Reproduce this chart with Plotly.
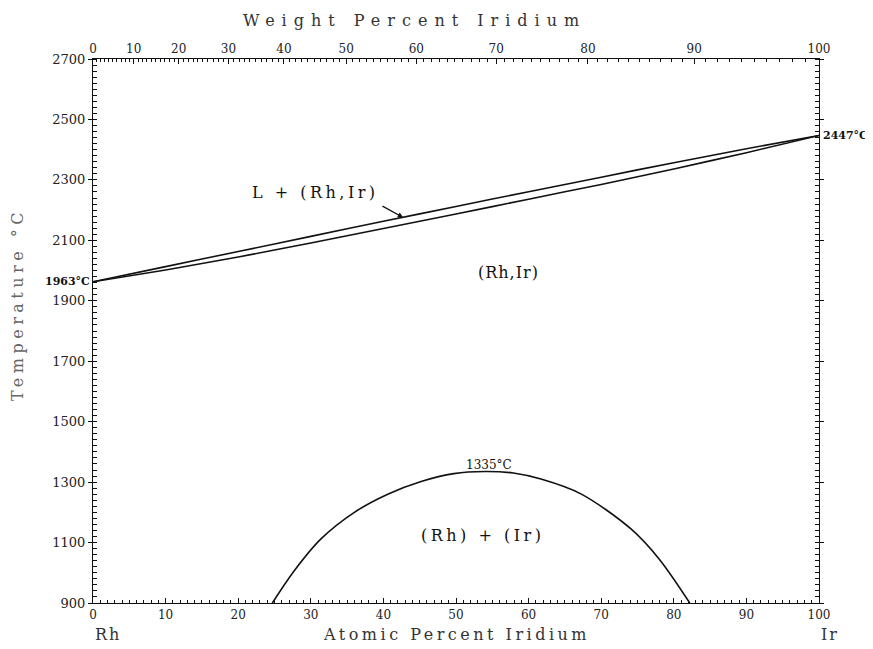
import plotly.graph_objects as go

# Liquidus / solidus (atomic % Ir, °C)
liq_x = [0, 10, 20, 30, 40, 50, 60, 70, 80, 90, 100]
liq_t = [1963, 2013, 2063, 2113, 2163, 2212, 2261, 2309, 2357, 2403, 2447]
sol_x = [0, 10, 20, 30, 40, 50, 60, 70, 80, 90, 100]
sol_t = [1963, 2002, 2045, 2091, 2139, 2187, 2236, 2285, 2336, 2390, 2447]

# Miscibility gap
gap_x = [24.7, 27.7, 31.4, 36.0, 40.6, 45.2, 49.7, 54.0, 57.9, 61.7, 67.2, 74.1, 78.0, 82.2]
gap_t = [900, 1006, 1112, 1200, 1260, 1302, 1328, 1335, 1330, 1310, 1261, 1145, 1045, 900]

# Axis labels
y_ticks = [900, 1100, 1300, 1500, 1700, 1900, 2100, 2300, 2500, 2700]
at_ticks = [0, 10, 20, 30, 40, 50, 60, 70, 80, 90, 100]
wt_ticks = [0, 10, 20, 30, 40, 50, 60, 70, 80, 90, 100]
wt_minor = [w for w in range(0, 101)]

M_RH, M_IR = 102.906, 192.217


def wt_to_at(w):
    if w >= 100:
        return 100.0
    a = w / M_IR
    b = (100 - w) / M_RH
    return 100 * a / (a + b)


FONT = "DejaVu Serif"
BLACK = "#111"


def spaced(t, px):
    return f'<span style="letter-spacing:{px}px">{t}</span>'


fig = go.Figure()
line = dict(color=BLACK, width=1.6, shape="spline", smoothing=0.4)
fig.add_trace(go.Scatter(x=liq_x, y=liq_t, mode="lines", line=line, xaxis="x", yaxis="y"))
fig.add_trace(go.Scatter(x=sol_x, y=sol_t, mode="lines", line=line, xaxis="x", yaxis="y"))
fig.add_trace(go.Scatter(x=gap_x, y=gap_t, mode="lines",
                         line=dict(color=BLACK, width=1.6, shape="spline", smoothing=0.9),
                         xaxis="x", yaxis="y"))
# invisible trace for top axis
fig.add_trace(go.Scatter(x=[0, 100], y=[900, 900], mode="lines", line=dict(width=0),
                         xaxis="x2", yaxis="y", hoverinfo="skip"))

xfont = dict(family=FONT, size=12, color="#222")
yfont = dict(family=FONT, size=13, color="#222")

fig.update_layout(
    width=873, height=649,
    margin=dict(l=85, r=62, t=51, b=54),
    paper_bgcolor="white", plot_bgcolor="white",
    showlegend=False,
    xaxis=dict(range=[0, 100], tickvals=at_ticks, ticks="inside", ticklen=5,
               tickcolor=BLACK, showline=True, linecolor=BLACK, linewidth=1.2,
               showgrid=False, zeroline=False, tickfont=xfont, automargin=False,
               minor=dict(dtick=1, ticks="inside", ticklen=3, tickcolor=BLACK)),
    xaxis2=dict(range=[0, 100], overlaying="x", side="top",
                tickvals=[wt_to_at(w) for w in wt_ticks], ticktext=[str(w) for w in wt_ticks],
                ticks="inside", ticklen=5, tickcolor=BLACK, showline=True,
                linecolor=BLACK, linewidth=1.2, showgrid=False, zeroline=False,
                tickfont=xfont, automargin=False,
                minor=dict(tickvals=[wt_to_at(w) for w in wt_minor], ticks="inside",
                           ticklen=3, tickcolor=BLACK)),
    yaxis=dict(range=[900, 2700], tickvals=y_ticks, ticks="outside", ticklen=4,
               tickcolor=BLACK, showline=True, linecolor=BLACK, linewidth=1.2,
               mirror="allticks", showgrid=False, zeroline=False, tickfont=yfont,
               automargin=False,
               minor=dict(dtick=20, ticks="inside", ticklen=3, tickcolor=BLACK)),
)

ann_font = dict(family=FONT, size=16, color=BLACK)
title_font = dict(family=FONT, size=16, color="#333")
fig.add_annotation(text=spaced("Weight Percent Iridium", 7), xref="paper", yref="paper",
                   x=0.443, y=1.07, yanchor="middle", showarrow=False, font=title_font)
fig.add_annotation(text=spaced("Atomic Percent Iridium", 3.5), xref="paper", yref="paper",
                   x=0.5, y=-0.058, yanchor="middle", showarrow=False, font=title_font)
fig.add_annotation(text=spaced("Temperature °C", 4.5), xref="paper", yref="paper",
                   x=-0.103, y=0.548, xanchor="center", yanchor="middle",
                   textangle=-90, showarrow=False,
                   font=dict(family=FONT, size=16, color="#666"))
fig.add_annotation(text=spaced("Rh", 2), xref="paper", yref="paper", x=0.0, y=-0.058,
                   xanchor="left", yanchor="middle", showarrow=False, font=title_font)
fig.add_annotation(text=spaced("Ir", 2), xref="paper", yref="paper", x=1.0, y=-0.058,
                   xanchor="left", yanchor="middle", showarrow=False, font=title_font)

fig.add_annotation(text="<b>1963°C</b>", xref="paper", yref="y", x=0, y=liq_t[0],
                   xanchor="right", xshift=-1, showarrow=False,
                   font=dict(family=FONT, size=11, color=BLACK))
fig.add_annotation(text="<b>2447°C</b>", xref="paper", yref="y", x=1, y=liq_t[-1],
                   xanchor="left", xshift=2, showarrow=False,
                   font=dict(family=FONT, size=11, color=BLACK))
fig.add_annotation(text="1335°C", x=54.5, y=max(gap_t), yanchor="bottom", yshift=-2,
                   showarrow=False, font=dict(family=FONT, size=12, color=BLACK))

fig.add_annotation(text=spaced("L + (Rh,Ir)", 3.5), x=30.7, y=2257, showarrow=False, font=ann_font)
fig.add_annotation(text="", x=42.7, y=2176, ax=-22, ay=-12, showarrow=True,
                   arrowhead=2, arrowsize=0.8, arrowwidth=1.3, arrowcolor=BLACK)
fig.add_annotation(text=spaced("(Rh,Ir)", 1), x=57.2, y=1992, showarrow=False, font=ann_font)
fig.add_annotation(text=spaced("(Rh) + (Ir)", 3.5), x=53.7, y=1122, showarrow=False, font=ann_font)

fig.write_html("out.html")
